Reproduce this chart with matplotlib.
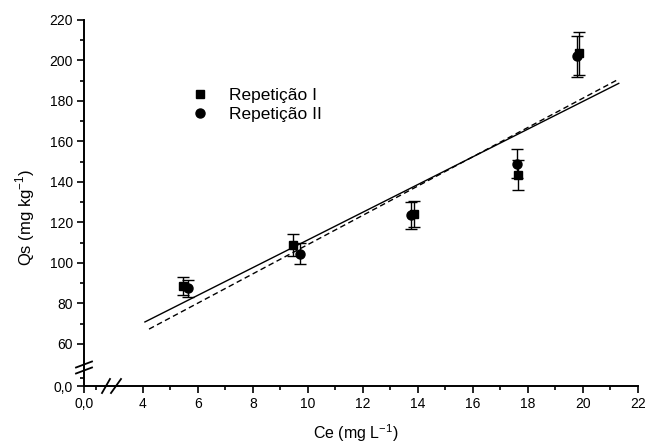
import numpy as np
import matplotlib
matplotlib.use('Agg')
import matplotlib.pyplot as plt
from matplotlib.lines import Line2D

plt.rcParams['font.family'] = ['Liberation Sans', 'DejaVu Sans']

# Repeticao I (squares)
ce_1 = [5.45, 9.45, 13.85, 17.65, 19.85]
qs_1 = [88.5, 109.0, 124.0, 143.5, 203.5]
err_1 = [4.5, 5.5, 6.5, 7.4, 10.5]
# Repeticao II (circles)
ce_2 = [5.65, 9.72, 13.75, 17.6, 19.8]
qs_2 = [87.6, 104.5, 123.5, 149.0, 202.0]
err_2 = [4.2, 5.2, 6.5, 7.2, 10.0]
# linear fits (slope, intercept) and range
fit_1 = (6.84, 43.0)
fit_2 = (7.23, 36.8)
fit_x1 = [4.07, 21.3]
fit_x2 = [4.22, 21.3]

x_lo, y_lo = 1.855, 39.2

fig = plt.figure(figsize=(6.46, 4.46), dpi=100)
ax = fig.add_axes([84/646, 1-386/446, (638-84)/646, (386-20)/446])

ax.errorbar(ce_1, qs_1, yerr=err_1, fmt='s', color='k', ms=6, capsize=4, elinewidth=1, capthick=1)
ax.errorbar(ce_2, qs_2, yerr=err_2, fmt='o', color='k', ms=6.5, capsize=4, elinewidth=1, capthick=1)
fx1 = np.array(fit_x1)
fx2 = np.array(fit_x2)
ax.plot(fx1, fit_1[0]*fx1 + fit_1[1], 'k-', lw=1.0)
ax.plot(fx2, fit_2[0]*fx2 + fit_2[1], 'k--', lw=1.0, dashes=(4, 2.5))

ax.set_xlim(x_lo, 22)
ax.set_ylim(y_lo, 220)
for s in ['top', 'right']:
    ax.spines[s].set_visible(False)
for s in ['left', 'bottom']:
    ax.spines[s].set_linewidth(1.4)

ax.set_xticks([x_lo] + list(range(4, 23, 2)))
ax.set_xticklabels(['0,0'] + [str(v) for v in range(4, 23, 2)])
ax.set_xticks([2.29] + list(range(5, 22, 2)), minor=True)
ax.set_yticks([y_lo] + list(range(60, 221, 20)))
ax.set_yticklabels(['0,0'] + [str(v) for v in range(60, 221, 20)])
ax.set_yticks([43.2] + list(range(70, 220, 20)), minor=True)
ax.tick_params(which='major', direction='out', length=5, width=1.2, labelsize=10, pad=3)
ax.tick_params(which='minor', direction='out', length=3, width=1.2)

ax.set_xlabel('Ce (mg L$^{\\mathregular{-1}}$)', fontsize=11.5, va='center')
ax.xaxis.set_label_coords((356-84)/554, -(433-386)/366)
ax.set_ylabel('Qs (mg kg$^{\\mathregular{-1}}$)', fontsize=12, va='center')
ax.yaxis.set_label_coords(-(84-25)/554, (386-217)/366)

# axis break marks
def fig_line(x0, y0, x1, y1):
    fig.add_artist(Line2D([x0/646, x1/646], [1-y0/446, 1-y1/446], color='k', lw=1.3))

fig_line(76, 367.5, 92, 361.5)
fig_line(76, 373.5, 92, 367.5)
fig_line(102, 393, 110, 379)
fig_line(111, 393, 121, 379)

h1 = Line2D([], [], marker='s', color='k', ls='none', ms=6)
h2 = Line2D([], [], marker='o', color='k', ls='none', ms=6.5)
fig.legend([h1, h2], ['Repetição I', 'Repetição II'], loc='upper left',
           bbox_to_anchor=(184/646, 1-81/446), frameon=False, fontsize=12.5,
           handlelength=1, handletextpad=1.2, labelspacing=0.2, borderaxespad=0)

fig.savefig('out.png', dpi=100)
